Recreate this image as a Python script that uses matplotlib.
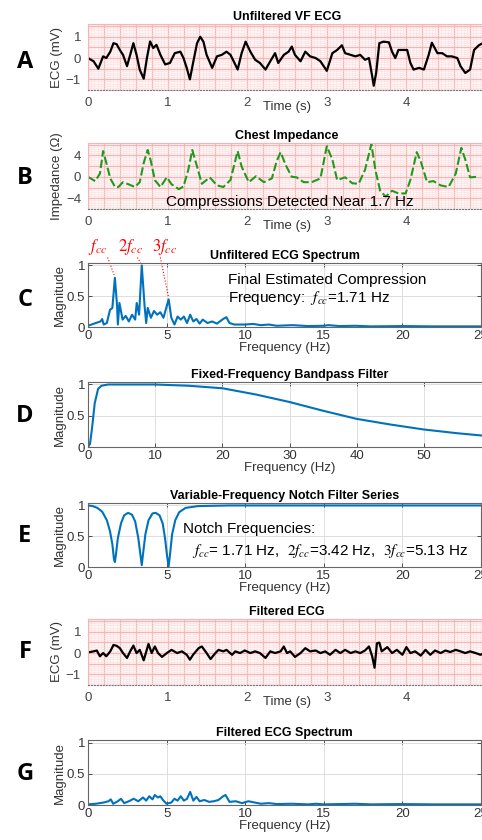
import numpy as np
import matplotlib
matplotlib.use('Agg')
import matplotlib.pyplot as plt

plt.rcParams['font.family'] = ['Liberation Sans', 'DejaVu Sans']
plt.rcParams['mathtext.fontset'] = 'stix'

# ── data ────────────────────────────────────────────────────
# A: unfiltered VF ECG
ecg_t = [0.00, 0.07, 0.13, 0.19, 0.23, 0.28, 0.32, 0.36, 0.40, 0.44, 0.49, 0.53,
         0.57, 0.61, 0.65, 0.70, 0.74, 0.78, 0.82, 0.86, 0.91, 0.97, 1.03, 1.09,
         1.16, 1.20, 1.24, 1.28, 1.32, 1.37, 1.41, 1.45, 1.49, 1.56, 1.62, 1.68,
         1.74, 1.79, 1.83, 1.88, 1.93, 1.98, 2.04, 2.10, 2.16, 2.23, 2.29, 2.35,
         2.39, 2.46, 2.52, 2.56, 2.60, 2.67, 2.73, 2.79, 2.86, 2.92, 3.00, 3.07,
         3.13, 3.19, 3.23, 3.30, 3.36, 3.42, 3.48, 3.53, 3.57, 3.59, 3.62, 3.66,
         3.71, 3.78, 3.82, 3.86, 3.90, 3.97, 4.01, 4.05, 4.09, 4.16, 4.22, 4.28,
         4.32, 4.39, 4.45, 4.51, 4.57, 4.64, 4.68, 4.74, 4.80, 4.85, 4.91, 4.96,
         5.00]
ecg_v = [0.00, -0.15, -0.50, 0.08, 0.00, 0.30, 0.70, 0.65, 0.38, 0.15, -0.38, 0.15,
         0.70, 0.15, -0.55, -0.97, 0.00, 0.78, 0.47, 0.62, 0.15, -0.30, -0.23, 0.23,
         0.30, 0.00, -0.46, -1.00, -0.23, 0.70, 1.00, 0.77, 0.15, -0.46, 0.08, 0.15,
         0.30, 0.15, -0.15, -0.54, 0.23, 0.77, 0.30, -0.08, -0.23, -0.54, -0.15, 0.23,
         -0.23, 0.15, 0.30, 0.54, 0.15, -0.15, 0.30, 0.08, 0.00, -0.15, -0.60, 0.23,
         0.38, 0.60, 0.23, 0.15, 0.08, 0.15, -0.08, 0.00, -0.85, -1.30, -0.70, 0.70,
         0.77, 0.74, 0.30, 0.00, 0.38, 0.38, 0.38, -0.23, -0.54, -0.46, -0.54, 0.15,
         0.72, 0.23, 0.23, 0.08, 0.08, 0.00, -0.38, -0.70, -0.54, 0.38, 0.60, 0.70,
         0.45]

# B: chest impedance
imp_t = [0.00, 0.09, 0.15, 0.19, 0.23, 0.28, 0.34, 0.38, 0.44, 0.51, 0.59, 0.65,
         0.70, 0.75, 0.79, 0.84, 0.91, 0.99, 1.05, 1.14, 1.20, 1.26, 1.31, 1.37,
         1.43, 1.53, 1.62, 1.70, 1.79, 1.88, 1.93, 2.02, 2.11, 2.21, 2.31, 2.37,
         2.42, 2.48, 2.56, 2.62, 2.71, 2.81, 2.92, 3.00, 3.07, 3.13, 3.23, 3.32,
         3.40, 3.48, 3.56, 3.61, 3.67, 3.74, 3.82, 3.90, 3.99, 4.05, 4.13, 4.18,
         4.26, 4.34, 4.43, 4.53, 4.62, 4.69, 4.74, 4.80, 4.89]
imp_v = [0.0, -0.8, 0.6, 4.8, 2.6, -0.3, -1.9, -1.9, -1.0, -1.4, -1.9, -1.0,
         2.6, 5.0, 2.9, -0.6, -1.9, -0.1, -1.4, -2.3, -1.8, 1.3, 5.0, 1.9,
         -1.3, -0.1, -1.6, -1.9, -0.6, 4.8, 1.9, -1.0, 0.1, -1.0, -0.3, 2.9,
         4.6, 2.3, 0.0, -0.1, -1.0, -1.0, -0.3, 5.7, 3.2, -0.6, -0.1, -1.2,
         -1.3, 1.3, 6.1, 1.3, -2.6, -3.7, -2.6, -3.1, -3.1, -0.6, 4.6, 2.9,
         -1.0, -0.8, -1.6, -1.9, 0.6, 5.4, 3.2, -0.1, 0.0]

# C: unfiltered ECG spectrum
spec_f = [0.0, 0.5, 0.8, 0.9, 1.0, 1.2, 1.4, 1.55, 1.71, 1.85, 1.9, 2.0, 2.2, 2.4,
          2.6, 2.8, 3.0, 3.1, 3.25, 3.42, 3.6, 3.7, 3.8, 4.0, 4.2, 4.4, 4.6, 4.8,
          5.13, 5.3, 5.5, 5.7, 5.9, 6.1, 6.3, 6.5, 6.7, 6.9, 7.1, 7.3, 7.6, 7.9,
          8.2, 8.6, 8.8, 9.0, 9.3, 9.6, 10.0, 10.5, 11.0, 11.5, 12.0, 13.0, 14.0,
          15.0, 15.3, 16.0, 17.0, 18.0, 20.0, 22.0, 25.0]
spec_m = [0.02, 0.065, 0.09, 0.13, 0.04, 0.065, 0.28, 0.31, 0.80, 0.34, 0.04, 0.39,
          0.12, 0.18, 0.09, 0.20, 0.12, 0.39, 0.20, 1.00, 0.34, 0.065, 0.31, 0.15,
          0.26, 0.20, 0.24, 0.15, 0.45, 0.15, 0.04, 0.17, 0.12, 0.17, 0.065, 0.20,
          0.09, 0.13, 0.055, 0.12, 0.065, 0.09, 0.055, 0.13, 0.16, 0.065, 0.04, 0.04,
          0.04, 0.05, 0.03, 0.04, 0.02, 0.03, 0.015, 0.02, 0.03, 0.015, 0.02, 0.01,
          0.015, 0.01, 0.01]

# D: fixed-frequency bandpass filter
bp_f = [0.0, 0.3, 0.6, 1.0, 1.5, 2.0, 3.0, 5.0, 10.0, 15.0, 20.0, 25.0, 30.0,
        35.0, 40.0, 45.0, 50.0, 55.0, 60.0]
bp_m = [0.0, 0.05, 0.30, 0.70, 0.93, 0.98, 1.0, 1.0, 1.0, 0.98, 0.94, 0.84, 0.72,
        0.58, 0.45, 0.36, 0.28, 0.22, 0.17]

# E: notch filter series
notch_f = [0.0, 0.3, 0.6, 0.9, 1.2, 1.4, 1.55, 1.65, 1.71, 1.78, 1.9, 2.1, 2.3,
           2.55, 2.8, 3.0, 3.2, 3.33, 3.42, 3.5, 3.65, 3.85, 4.1, 4.3, 4.55, 4.75,
           4.9, 5.03, 5.13, 5.22, 5.35, 5.55, 5.8, 6.2, 7.0, 9.0, 25.0]
notch_m = [1.0, 0.99, 0.96, 0.90, 0.76, 0.58, 0.37, 0.13, 0.08, 0.21, 0.47, 0.71,
           0.84, 0.88, 0.85, 0.74, 0.47, 0.21, 0.03, 0.21, 0.53, 0.76, 0.87, 0.88,
           0.84, 0.71, 0.47, 0.18, 0.01, 0.21, 0.53, 0.76, 0.89, 0.96, 0.99, 1.0,
           1.0]

# F: filtered ECG
fecg_t = [0.00, 0.07, 0.11, 0.15, 0.19, 0.23, 0.28, 0.32, 0.36, 0.40, 0.44, 0.49,
          0.53, 0.57, 0.61, 0.65, 0.70, 0.76, 0.80, 0.84, 0.88, 0.93, 0.99, 1.05,
          1.12, 1.18, 1.24, 1.28, 1.32, 1.39, 1.43, 1.49, 1.54, 1.60, 1.64, 1.70,
          1.74, 1.81, 1.85, 1.91, 1.97, 2.04, 2.10, 2.16, 2.23, 2.29, 2.35, 2.42,
          2.46, 2.50, 2.54, 2.60, 2.67, 2.73, 2.79, 2.86, 2.92, 2.98, 3.04, 3.11,
          3.17, 3.23, 3.30, 3.36, 3.42, 3.48, 3.53, 3.57, 3.60, 3.63, 3.66, 3.69,
          3.76, 3.82, 3.88, 3.95, 4.00, 4.05, 4.11, 4.18, 4.24, 4.30, 4.36, 4.43,
          4.49, 4.55, 4.62, 4.68, 4.74, 4.80, 4.87, 4.93, 5.00]
fecg_v = [0.03, 0.08, 0.12, -0.15, 0.00, -0.15, 0.08, 0.38, 0.34, 0.23, 0.00, -0.23,
          0.08, 0.35, 0.00, 0.15, -0.34, 0.43, 0.00, 0.31, 0.00, -0.18, 0.00, 0.15,
          0.00, 0.08, -0.08, -0.31, -0.08, 0.23, 0.31, 0.00, -0.28, 0.00, 0.15, 0.08,
          0.15, -0.08, 0.08, 0.00, 0.12, 0.00, 0.08, 0.00, -0.23, 0.08, 0.00, 0.08,
          0.31, 0.00, 0.08, -0.18, 0.00, 0.23, 0.08, 0.12, 0.00, 0.08, -0.08, 0.15,
          0.00, 0.15, 0.00, 0.08, 0.00, 0.12, 0.31, -0.15, -0.69, 0.46, 0.49, 0.08,
          0.28, 0.00, 0.15, -0.08, 0.28, 0.00, 0.08, -0.12, 0.15, -0.08, 0.12, 0.00,
          0.12, 0.05, 0.15, 0.08, 0.00, 0.08, 0.00, -0.08, 0.02]

# G: filtered ECG spectrum
fspec_f = [0.0, 0.5, 1.0, 1.3, 1.45, 1.6, 1.9, 2.1, 2.3, 2.6, 2.9, 3.2, 3.5, 3.7,
           3.9, 4.1, 4.25, 4.45, 4.6, 4.8, 5.0, 5.3, 5.5, 5.7, 5.9, 6.1, 6.3, 6.5,
           6.7, 6.9, 7.1, 7.4, 7.7, 8.0, 8.3, 8.6, 8.75, 9.0, 9.4, 9.8, 10.2, 10.6,
           11.0, 11.5, 12.0, 13.0, 14.0, 14.5, 15.0, 16.0, 17.0, 18.0, 20.0, 22.0,
           25.0]
fspec_m = [0.01, 0.02, 0.04, 0.06, 0.09, 0.02, 0.06, 0.10, 0.03, 0.06, 0.10, 0.06,
           0.12, 0.07, 0.14, 0.09, 0.16, 0.12, 0.14, 0.07, 0.02, 0.04, 0.10, 0.07,
           0.14, 0.07, 0.10, 0.21, 0.07, 0.13, 0.06, 0.08, 0.05, 0.06, 0.08, 0.14,
           0.16, 0.05, 0.06, 0.03, 0.06, 0.04, 0.02, 0.03, 0.015, 0.02, 0.01, 0.02,
           0.01, 0.015, 0.02, 0.01, 0.015, 0.01, 0.01]

# ── style ───────────────────────────────────────────────────
W, H = 482, 840
BLUE = '#0072BD'
GREEN = '#1f9a1f'
PAPER = '#fff6f6'
MAJOR = '#f7b4b4'
MINOR = '#fce0e0'
FS = 9.5
FT = 9
FA = 11     # annotation text


def pos(left, top, right, bottom):
    """pixel box -> figure fraction"""
    return [left / W, 1 - bottom / H, (right - left) / W, (bottom - top) / H]


def ecg_axes(fig, box, ylim, yt, ymaj, ymin, title, ylabel):
    ax = fig.add_axes(pos(*box))
    ax.set_facecolor(PAPER)
    for x in np.arange(0, 5.2, 0.04):
        ax.axvline(x, color=MINOR, lw=0.4, zorder=0)
    for x in np.arange(0, 5.2, 0.2):
        ax.axvline(x, color=MAJOR, lw=0.9, zorder=0)
    for y in np.arange(-10, 10, ymin):
        ax.axhline(y, color=MINOR, lw=0.4, zorder=0)
    for y in np.arange(-10, 10, ymaj):
        ax.axhline(y, color=MAJOR, lw=0.9, zorder=0)
    ax.set_xlim(0, 5)
    ax.set_ylim(*ylim)
    ax.set_xticks([0, 1, 2, 3, 4])
    ax.set_yticks(yt)
    ax.tick_params(length=0, labelsize=FS, colors='#444444', pad=5)
    for s in ['top', 'left', 'right']:
        ax.spines[s].set_color(MAJOR)
    ax.spines['bottom'].set_color('#777777')
    ax.spines['bottom'].set_linestyle(':')
    ax.set_title(title, fontsize=FT, fontweight='bold', pad=3)
    ax.set_ylabel(ylabel, fontsize=FS, color='#333333', labelpad=2)
    ax.set_xlabel('Time (s)', fontsize=FS, color='#333333', labelpad=-6)
    return ax


def spec_axes(fig, box, xlim, xt, title):
    ax = fig.add_axes(pos(*box))
    ax.set_xlim(*xlim)
    ax.set_ylim(0, 1.04)
    ax.set_xticks(xt)
    ax.set_yticks([0, 0.5, 1])
    ax.set_yticklabels(['0', '0.5', '1'])
    ax.grid(True, color='#dddddd', lw=0.7)
    ax.set_axisbelow(True)
    ax.tick_params(direction='in', length=3, width=0.6, top=True, right=True,
                   labelsize=FS, colors='#333333', pad=2)
    for s in ax.spines.values():
        s.set_color('#666666')
        s.set_linewidth(0.8)
    ax.set_title(title, fontsize=FT, fontweight='bold', pad=3)
    ax.set_ylabel('Magnitude', fontsize=FS, color='#333333', labelpad=1)
    ax.set_xlabel('Frequency (Hz)', fontsize=FS, color='#333333', labelpad=0)
    return ax


fig = plt.figure(figsize=(W / 100, H / 100), dpi=100)

# A
axA = ecg_axes(fig, (88, 24, 486, 90), (-1.5, 1.6), [-1, 0, 1], 0.5, 0.1,
               'Unfiltered VF ECG', 'ECG (mV)')
axA.plot(ecg_t, ecg_v, color='black', lw=1.6, solid_joinstyle='round')

# B
axB = ecg_axes(fig, (88, 143, 486, 209), (-6, 6.3), [-4, 0, 4], 2, 0.4,
               'Chest Impedance', 'Impedance (\u03a9)')
axB.plot(imp_t, imp_v, color=GREEN, lw=1.5, ls=(0, (4, 1.5)))
axB.text(2.54, -4.7, 'Compressions Detected Near 1.7 Hz', fontsize=FA,
         ha='center', va='center')

# C
axC = spec_axes(fig, (88, 263, 481, 327), (0, 25), [0, 5, 10, 15, 20, 25],
                'Unfiltered ECG Spectrum')
axC.plot(spec_f, spec_m, color=BLUE, lw=1.5, solid_joinstyle='round')
axC.text(8.9, 0.76, 'Final Estimated Compression', fontsize=FA, va='center')
axC.text(8.9, 0.47, r'Frequency:  $\mathit{f_{cc}}$=1.71 Hz', fontsize=FA,
         va='center')
harm = [(r'$\mathit{f_{cc}}$', 0.64, 1.70, 0.82, 1.25),
        (r'$\mathit{2f_{cc}}$', 2.68, 3.42, 1.00, 3.15),
        (r'$\mathit{3f_{cc}}$', 4.85, 5.13, 0.48, 4.6)]
for lab, xt_, xp, yp, xl in harm:
    axC.text(xt_, 1.30, lab, color='red', fontsize=12, ha='center', va='center',
             clip_on=False)
    axC.plot([xl, xp], [1.13, yp], color='red', lw=0.8, ls=':', clip_on=False)

# D
axD = spec_axes(fig, (88, 382, 491, 447), (0, 60), [0, 10, 20, 30, 40, 50, 60],
                'Fixed-Frequency Bandpass Filter')
axD.set_xticklabels(['0', '10', '20', '30', '40', '50', ''])
axD.plot(bp_f, bp_m, color=BLUE, lw=1.5)

# E
axE = spec_axes(fig, (88, 503, 481, 567), (0, 25), [0, 5, 10, 15, 20, 25],
                'Variable-Frequency Notch Filter Series')
axE.plot(notch_f, notch_m, color=BLUE, lw=1.5, solid_joinstyle='round')
axE.text(6.05, 0.61, 'Notch Frequencies:', fontsize=FA, va='center')
axE.text(6.6, 0.26, r'$\mathit{f_{cc}}$= 1.71 Hz,  $\mathit{2f_{cc}}$=3.42 Hz,  '
         r'$\mathit{3f_{cc}}$=5.13 Hz', fontsize=FA, va='center', clip_on=False)

# F
axF = ecg_axes(fig, (88, 619, 486, 685), (-1.5, 1.6), [-1, 0, 1], 0.5, 0.1,
               'Filtered ECG', 'ECG (mV)')
axF.plot(fecg_t, fecg_v, color='black', lw=1.6, solid_joinstyle='round')

# G
axG = spec_axes(fig, (88, 740, 481, 805), (0, 25), [0, 5, 10, 15, 20, 25],
                'Filtered ECG Spectrum')
axG.plot(fspec_f, fspec_m, color=BLUE, lw=1.5, solid_joinstyle='round')

# panel letters
for letter, y in zip('ABCDEFG', [62, 178, 300, 416, 536, 652, 774]):
    fig.text(25 / W, 1 - y / H, letter, fontsize=17, fontweight='bold',
             family='Open Sans', ha='center', va='center')

fig.savefig('out.png', dpi=100)
